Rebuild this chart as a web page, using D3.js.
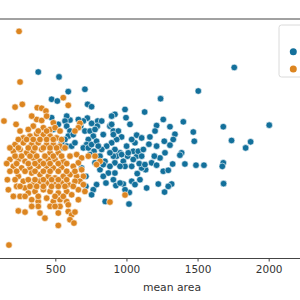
<!DOCTYPE html>
<html>
<head>
<meta charset="utf-8">
<script src="https://cdn.jsdelivr.net/npm/d3@7"></script>
<style>
  body { margin: 0; background: #fff; }
  svg { display: block; font-family: "DejaVu Sans", sans-serif; }
</style>
</head>
<body>
<div id="chart"></div>
<script>
// mean area / mean smoothness
var malignant = [
  [380,.1419],[526,.1394],[1758,.1442],[1505,.1322],[708,.1331],[591,.1319],[474,.1280],[514,.1271],
  [1240,.1283],[727,.1254],[755,.1242],[990,.1228],[1128,.1215],[2004,.1148],[1681,.1140],[1470,.1113],
  [1477,.1066],[1739,.1070],[1838,.1032],[1873,.1063],[1681,.0956],[1674,.0938],[1545,.0944],[1489,.0944],
  [1683,.0850],[1411,.0950],[1388,.1007],[1376,.0995],[1400,.1165],[1341,.1102],[1306,.1140],[1259,.1177],
  [1212,.1146],[1201,.1118],[1165,.1088],[1158,.1051],[1212,.1041],[1266,.1066],[1329,.1075],[1306,.1046],
  [1271,.1007],[1236,.0981],[1196,.0990],[1177,.0956],[1212,.0944],[1259,.0913],[1294,.0918],[1325,.0950],
  [1318,.0848],[1294,.0836],[1268,.0807],[1224,.0848],[1142,.0828],[1135,.0921],[1107,.0930],[1090,.0952],
  [1072,.0990],[1048,.1015],[1060,.1058],[1072,.1097],[1037,.1075],[1001,.1041],[1008,.0990],[978,.0964],
  [955,.1007],[931,.0990],[919,.0956],[919,.0904],[908,.0870],[926,.0840],[978,.0848],[1037,.0862],
  [1020,.0805],[1076,.0901],[1037,.0938],[1095,.0870],[997,.1186],[919,.1203],[896,.1194],[884,.1143],
  [908,.1118],[943,.1118],[966,.1088],[931,.1075],[896,.1058],[861,.1041],[826,.1024],[814,.0990],
  [814,.0921],[849,.0964],[873,.0904],[856,.0853],[790,.0845],[767,.0819],[755,.0793],[715,.0836],
  [851,.0759],[1018,.0746],[798,.1169],[795,.1143],[755,.1157],[725,.1184],[697,.1169],[678,.1143],
  [662,.1177],[603,.1174],[580,.1194],[568,.1169],[580,.1143],[603,.1118],[591,.1092],[568,.1075],
  [544,.1058],[556,.1032],[580,.1041],[615,.1041],[638,.1058],[708,.1118],[744,.1118],[767,.1092],
  [732,.1075],[720,.1049],[697,.1032],[732,.1032],[755,.1049],[790,.1066],[802,.1041],[772,.1015],
  [744,.0998],[474,.1186],[521,.1152],[486,.1126],[715,.0887],[685,.0930],[626,.1100],[837,.1100],
  [908,.1100],[1107,.1083],[919,.1024],[966,.0998],[1013,.1007],[1083,.1015],[1119,.1024],[1107,.0990],
  [1048,.0973],[990,.0938],[955,.0938],[884,.0938],[837,.0947],[779,.0956],[955,.0853],[1060,.0845],
  [990,.0819],[837,.0887],[1130,.0947],[908,.0990],[884,.1007],[1025,.1152],[826,.1169],[779,.1126],
  [896,.1152]
];

var benign = [
  [245,.1626],[252,.1368],[174,.0537],[139,.1169],[217,.1240],[268,.1254],[373,.1237],[404,.1234],
  [434,.1220],[369,.1177],[404,.1172],[486,.1160],[224,.1152],[345,.1143],[310,.1126],[416,.1135],
  [463,.1126],[498,.1135],[275,.1083],[322,.1092],[369,.1104],[416,.1100],[463,.1092],[509,.1083],
  [217,.1049],[275,.1058],[334,.1049],[380,.1058],[439,.1049],[486,.1049],[533,.1041],[205,.1015],
  [252,.1024],[298,.1007],[345,.1015],[404,.1024],[463,.1007],[521,.1007],[181,.0973],[240,.0973],
  [287,.0964],[345,.0981],[392,.0964],[451,.0973],[498,.0973],[556,.0964],[205,.0938],[263,.0930],
  [322,.0930],[380,.0938],[439,.0938],[486,.0930],[544,.0933],[163,.0870],[240,.0887],[275,.0862],
  [334,.0904],[392,.0896],[451,.0887],[498,.0879],[556,.0887],[603,.0896],[170,.0819],[228,.0836],
  [287,.0828],[345,.0845],[392,.0862],[439,.0853],[498,.0845],[544,.0853],[591,.0845],[252,.0785],
  [310,.0802],[357,.0810],[416,.0819],[463,.0810],[521,.0802],[580,.0810],[615,.0793],[334,.0768],
  [380,.0759],[439,.0776],[486,.0759],[533,.0768],[580,.0759],[380,.0734],[533,.0734],[591,.0742],
  [240,.0711],[287,.0705],[392,.0700],[427,.0674],[521,.0700],[591,.0708],[615,.0691],[603,.0666],
  [521,.0637],[591,.1249],[556,.1288],[673,.1157],[662,.1135],[638,.1118],[650,.0998],[685,.0981],
  [603,.0990],[662,.0956],[626,.0938],[685,.0921],[697,.0887],[650,.0887],[673,.0862],[638,.0862],
  [697,.0845],[662,.0819],[708,.0810],[662,.0768],[638,.0705],[631,.0649],[814,.0964],[790,.0947],
  [732,.0990],[779,.0990],[884,.0756],[990,.0792],
  [240,.1075],[298,.1075],[345,.1075],[392,.1075],[439,.1075],[486,.1075],[544,.1075],
  [181,.1032],[240,.1032],[310,.1032],[357,.1032],[416,.1032],[463,.1032],[509,.1032],[568,.1032],
  [217,.0990],[263,.0990],[322,.0990],[369,.0990],[427,.0990],[486,.0990],[544,.0990],
  [158,.0952],[228,.0952],[310,.0952],[357,.0952],[416,.0952],[463,.0952],[521,.0952],[580,.0952],
  [181,.0913],[228,.0913],[287,.0913],[357,.0913],[416,.0913],[463,.0913],[521,.0913],[580,.0913],[638,.0913],
  [217,.0870],[310,.0870],[357,.0870],[416,.0870],[474,.0870],[521,.0870],[580,.0870],
  [252,.0836],[322,.0836],[369,.0836],[416,.0836],[474,.0836],[521,.0836],[568,.0836],[626,.0836],
  [205,.0785],[287,.0785],[380,.0785],[498,.0785],[556,.0785],
  [252,.1118],[380,.1118],[439,.1118],[533,.1118],
  [334,.1194],[439,.1194],
  [334,.0734],[463,.0734],[498,.0734]
];

var xTicks = [500, 1000, 1500, 2000];
var xLabel = "mean area";
var colors = {malignant: "#13709b", benign: "#dc8520"};

var width = 300,
    height = 300;

var svg = d3.select("#chart").append("svg")
    .attr("width", width)
    .attr("height", height);

var x = d3.scaleLinear()
    .domain([0, 2500])
    .range([-15.8, 339.8]);

var y = d3.scaleLinear()
    .domain([0.0471, 0.1689])
    .range([258, 19]);

// top spine
svg.append("line")
    .attr("x1", 0).attr("x2", width)
    .attr("y1", 19).attr("y2", 19)
    .attr("stroke", "#444")
    .attr("stroke-width", 1);

// bottom axis
var xAxis = svg.append("g")
    .attr("transform", "translate(0,258)")
    .call(d3.axisBottom(x)
      .tickValues(xTicks)
      .tickFormat(d3.format("d"))
      .tickSize(3.5)
      .tickSizeOuter(0)
      .tickPadding(4));

xAxis.select(".domain").attr("stroke", "#444");
xAxis.selectAll(".tick line").attr("stroke", "#444");
xAxis.selectAll(".tick text")
    .attr("fill", "#333")
    .style("font-size", "10.5px")
    .style("font-family", "DejaVu Sans");

svg.append("text")
    .attr("x", 172)
    .attr("y", 291)
    .attr("text-anchor", "middle")
    .attr("fill", "#333")
    .style("font-size", "10.8px")
    .text(xLabel);

// points
function drawPoints(data, color) {
  svg.append("g")
    .selectAll("circle")
    .data(data)
    .enter()
    .append("circle")
    .attr("cx", d => x(d[0]))
    .attr("cy", d => y(d[1]))
    .attr("r", 3.3)
    .attr("fill", color)
    .attr("stroke", "white")
    .attr("stroke-width", 0.6);
}

drawPoints(malignant, colors.malignant);
drawPoints(benign, colors.benign);

// legend (text falls outside the visible crop)
var legend = svg.append("g");
legend.append("rect")
    .attr("x", 279).attr("y", 25)
    .attr("width", 60).attr("height", 52)
    .attr("rx", 2.5)
    .attr("fill", "white")
    .attr("fill-opacity", 0.8)
    .attr("stroke", "#d0d0d0")
    .attr("stroke-width", 0.8);

legend.selectAll("circle")
    .data([colors.malignant, colors.benign])
    .enter()
    .append("circle")
    .attr("cx", 293.3)
    .attr("cy", (d, i) => 51.7 + i * 17.3)
    .attr("r", 3.5)
    .attr("fill", d => d);
</script>
</body>
</html>
